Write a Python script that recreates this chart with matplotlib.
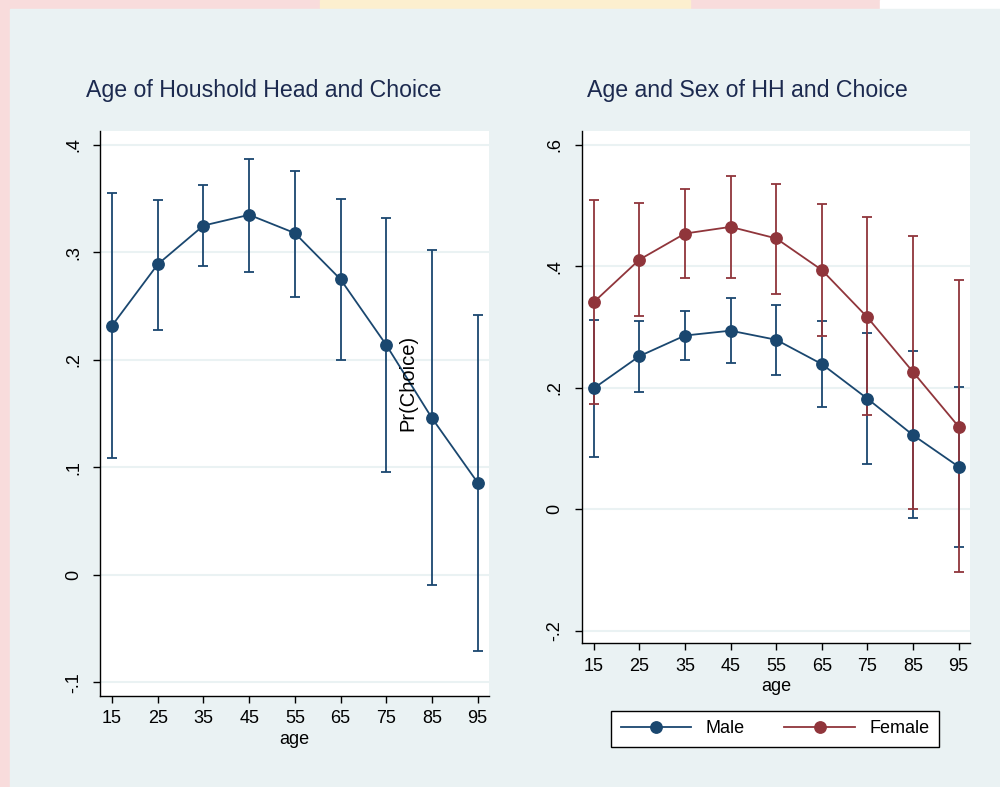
"""Predicted Pr(Choice) by age of household head, overall and by sex."""

import matplotlib

matplotlib.use("Agg")
import matplotlib.pyplot as plt
from matplotlib.lines import Line2D
from matplotlib.patches import Rectangle
from matplotlib.ticker import FuncFormatter

plt.rcParams["font.family"] = ["Liberation Sans", "DejaVu Sans"]

NAVY = "#1a476f"
MAROON = "#90353b"
PANEL_BG = "#eaf2f3"
TITLE_COLOR = "#1c2a4f"

ages = [15, 25, 35, 45, 55, 65, 75, 85, 95]

# pooled margins with 95% CI
all_pr = [0.232, 0.289, 0.325, 0.335, 0.318, 0.275, 0.214, 0.146, 0.086]
all_lo = [0.109, 0.228, 0.287, 0.282, 0.259, 0.200, 0.096, -0.009, -0.071]
all_hi = [0.355, 0.349, 0.363, 0.387, 0.376, 0.350, 0.332, 0.302, 0.242]

# margins by sex of household head
male_pr = [0.199, 0.252, 0.286, 0.294, 0.279, 0.239, 0.182, 0.122, 0.070]
male_lo = [0.086, 0.193, 0.245, 0.241, 0.221, 0.168, 0.075, -0.015, -0.062]
male_hi = [0.312, 0.310, 0.326, 0.348, 0.337, 0.310, 0.290, 0.260, 0.202]

female_pr = [0.341, 0.411, 0.454, 0.465, 0.446, 0.394, 0.316, 0.226, 0.136]
female_lo = [0.174, 0.318, 0.380, 0.381, 0.355, 0.285, 0.155, 0.001, -0.103]
female_hi = [0.509, 0.504, 0.528, 0.549, 0.535, 0.503, 0.481, 0.450, 0.377]

left_yticks = [-0.1, 0, 0.1, 0.2, 0.3, 0.4]
right_yticks = [-0.2, 0, 0.2, 0.4, 0.6]


def stata_num(v, _pos=None):
    """Format like Stata axis labels: .4, -.1, 0."""
    if abs(v) < 1e-9:
        return "0"
    s = f"{v:g}"
    return s.replace("0.", ".")


def draw_series(ax, pr, lo, hi, color):
    yerr = [[p - l for p, l in zip(pr, lo)], [h - p for p, h in zip(pr, hi)]]
    ax.errorbar(ages, pr, yerr=yerr, fmt="none", ecolor=color,
                elinewidth=1.3, capsize=3.6, capthick=1.3, zorder=2)


def draw_line(ax, pr, color):
    ax.plot(ages, pr, "-o", color=color, lw=1.3, ms=8.2, zorder=3)


def style_axes(ax, yticks, ylim):
    ax.set_facecolor("white")
    ax.set_xlim(12.35, 97.5)
    ax.set_ylim(*ylim)
    ax.set_xticks(ages)
    ax.set_yticks(yticks)
    ax.yaxis.set_major_formatter(FuncFormatter(stata_num))
    ax.yaxis.grid(True, color=PANEL_BG, lw=1.5)
    ax.set_axisbelow(True)
    for side in ("top", "right"):
        ax.spines[side].set_visible(False)
    for side in ("left", "bottom"):
        ax.spines[side].set_linewidth(1.0)
    ax.tick_params(axis="both", length=5, width=1.0, labelsize=13)
    ax.tick_params(axis="x", pad=5.5)
    ax.tick_params(axis="y", pad=8)
    for lab in ax.get_yticklabels():
        lab.set_rotation(90)
        lab.set_va("center")
    ax.set_xlabel("age", fontsize=13, labelpad=2.5)


fig = plt.figure(figsize=(10, 7.87), dpi=100)
fig.patch.set_facecolor("#f8dcdc")
# slide backdrop strip along the top, then the graph region
backdrop = [
    ((0.32, 0.985), 0.37, 0.015, "#fcefcf"),
    ((0.88, 0.985), 0.12, 0.015, "white"),
    ((0.01, 0.0), 0.99, 0.9885, PANEL_BG),
]
for xy, w, h, c in backdrop:
    fig.add_artist(Rectangle(xy, w, h, transform=fig.transFigure,
                             color=c, zorder=-5))

ax1 = fig.add_axes([0.100, 0.116, 0.389, 0.7176])
draw_series(ax1, all_pr, all_lo, all_hi, NAVY)
draw_line(ax1, all_pr, NAVY)
style_axes(ax1, left_yticks, (-0.1123, 0.413))

ax2 = fig.add_axes([0.5817, 0.1826, 0.3883, 0.651])
draw_series(ax2, male_pr, male_lo, male_hi, NAVY)
draw_series(ax2, female_pr, female_lo, female_hi, MAROON)
draw_line(ax2, male_pr, NAVY)
draw_line(ax2, female_pr, MAROON)
style_axes(ax2, right_yticks, (-0.221, 0.623))

fig.text(0.264, 0.8845, "Age of Houshold Head and Choice", fontsize=16.7,
         color=TITLE_COLOR, ha="center", va="center")
fig.text(0.7475, 0.8845, "Age and Sex of HH and Choice", fontsize=16.7,
         color=TITLE_COLOR, ha="center", va="center")
fig.text(0.408, 0.514, "Pr(Choice)", fontsize=14.5, rotation=90,
         ha="center", va="center", zorder=10)

handles = [
    Line2D([], [], color=NAVY, lw=1.3, marker="o", ms=8.2),
    Line2D([], [], color=MAROON, lw=1.3, marker="o", ms=8.2),
]
leg = fig.legend(handles, ["Male", "Female"], loc="center",
                 bbox_to_anchor=(0.775, 0.0737), ncol=2, fontsize=13,
                 frameon=True, fancybox=False, edgecolor="black",
                 framealpha=1.0, handlelength=3.9, handletextpad=0.8,
                 columnspacing=2.2, borderpad=0.55)
leg.get_frame().set_linewidth(1.0)
leg.get_frame().set_facecolor("white")

fig.savefig("out.png", dpi=100, facecolor=fig.get_facecolor())
